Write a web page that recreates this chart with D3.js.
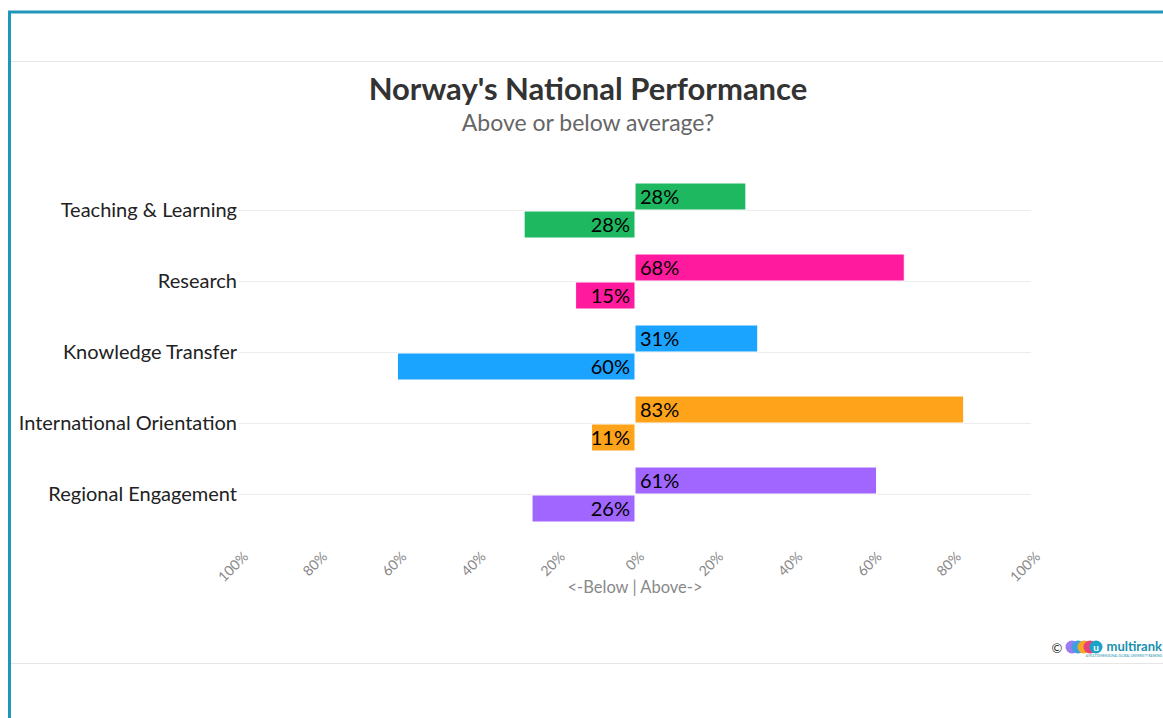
<!DOCTYPE html>
<html>
<head>
<meta charset="utf-8">
<script src="https://cdn.jsdelivr.net/npm/d3@7"></script>
<style>
  body { margin: 0; background: #fff; }
  svg { display: block; font-family: Lato, "Noto Sans", sans-serif; }
</style>
</head>
<body>
<svg id="chart" width="1163" height="718"></svg>
<script>
// data
const categories = ["Teaching & Learning", "Research", "Knowledge Transfer",
                    "International Orientation", "Regional Engagement"];
const aboveValues = [28, 68, 31, 83, 61];
const belowValues = [28, 15, 60, 11, 26];
const barColors = ["#1db860", "#ff1a9e", "#1aa3ff", "#ffa41a", "#a066ff"];
const tickValues = [-100, -80, -60, -40, -20, 0, 20, 40, 60, 80, 100];

const svg = d3.select("#chart");

// frame
svg.append("path")
    .attr("d", "M9.5,1000 V12 H1200")
    .attr("fill", "none").attr("stroke", "#2196bb").attr("stroke-width", 3);
svg.append("line").attr("x1", 11).attr("x2", 1163).attr("y1", 61.5).attr("y2", 61.5)
    .attr("stroke", "#e6e6e6");
svg.append("line").attr("x1", 11).attr("x2", 1163).attr("y1", 663.5).attr("y2", 663.5)
    .attr("stroke", "#e6e6e6");

// titles
svg.append("text").attr("x", 588).attr("y", 100).attr("text-anchor", "middle")
    .attr("font-size", 31).attr("font-weight", "bold").attr("fill", "#333")
    .text("Norway's National Performance");
svg.append("text").attr("x", 588).attr("y", 131).attr("text-anchor", "middle")
    .attr("font-size", 23).attr("fill", "#666")
    .text("Above or below average?");

const x = d3.scaleLinear().domain([-100, 100]).range([239, 1031]);
const y = d3.scaleBand().domain(categories).range([174.5, 529.5]);
const barH = 27;

const g = svg.append("g");

// category grid lines
g.selectAll("line.grid").data(categories).join("line")
    .attr("class", "grid")
    .attr("x1", x(-100)).attr("x2", x(100))
    .attr("y1", d => Math.round(y(d) + y.bandwidth() / 2) + 0.5)
    .attr("y2", d => Math.round(y(d) + y.bandwidth() / 2) + 0.5)
    .attr("stroke", "#ececec");

// category labels
g.selectAll("text.cat").data(categories).join("text")
    .attr("class", "cat")
    .attr("x", 237)
    .attr("y", d => y(d) + y.bandwidth() / 2 + 7)
    .attr("text-anchor", "end")
    .attr("font-size", 20).attr("fill", "#222")
    .text(d => d);

const mid = d => Math.round(y(d) + y.bandwidth() / 2);

// above bars
g.selectAll("rect.above").data(categories).join("rect")
    .attr("class", "above")
    .attr("x", x(0))
    .attr("y", d => mid(d) - barH)
    .attr("width", (d, i) => x(aboveValues[i]) - x(0))
    .attr("height", barH)
    .attr("fill", (d, i) => barColors[i])
    .attr("stroke", "#fff").attr("stroke-width", 1);

// below bars
g.selectAll("rect.below").data(categories).join("rect")
    .attr("class", "below")
    .attr("x", (d, i) => x(-belowValues[i]))
    .attr("y", d => mid(d) + 1)
    .attr("width", (d, i) => x(0) - x(-belowValues[i]))
    .attr("height", barH)
    .attr("fill", (d, i) => barColors[i])
    .attr("stroke", "#fff").attr("stroke-width", 1);

// value labels
g.selectAll("text.aboveLbl").data(categories).join("text")
    .attr("class", "aboveLbl")
    .attr("x", x(0) + 5)
    .attr("y", d => mid(d) - barH / 2 + 7)
    .attr("font-size", 20).attr("fill", "#000")
    .text((d, i) => aboveValues[i] + "%");
g.selectAll("text.belowLbl").data(categories).join("text")
    .attr("class", "belowLbl")
    .attr("x", x(0) - 5)
    .attr("y", d => mid(d) + 1 + barH / 2 + 7)
    .attr("text-anchor", "end")
    .attr("font-size", 20).attr("fill", "#000")
    .text((d, i) => belowValues[i] + "%");

// x axis
const axis = d3.axisBottom(x)
    .tickValues(tickValues)
    .tickSize(0)
    .tickFormat(d => Math.abs(d) + "%");
const ax = svg.append("g").attr("transform", "translate(0,538)").call(axis);
ax.select(".domain").remove();
ax.selectAll("text")
    .attr("font-family", "Lato, 'Noto Sans', sans-serif")
    .attr("font-size", 14).attr("fill", "#888")
    .attr("text-anchor", "end")
    .attr("dy", "0.35em")
    .attr("transform", "translate(4,14) rotate(-45)");

svg.append("text").attr("x", x(0)).attr("y", 593).attr("text-anchor", "middle")
    .attr("font-size", 16.5).attr("fill", "#888")
    .text("<-Below | Above->");

// credits logo
const logo = svg.append("g").attr("transform", "translate(1050,648)");
logo.append("text").attr("x", 7).attr("y", 5).attr("text-anchor", "middle")
    .attr("font-size", 13).attr("fill", "#333").text("\u00a9");
const dots = ["#9b7bf0", "#3aa0e0", "#f5a623", "#e8407a", "#1aa3c8"];
logo.selectAll("circle").data(dots).join("circle")
    .attr("cx", (d, i) => 22 + i * 6).attr("cy", -1).attr("r", 6.5)
    .attr("fill", d => d);
logo.append("text").attr("x", 46).attr("y", 2.5).attr("text-anchor", "middle")
    .attr("font-size", 10).attr("font-weight", "bold").attr("fill", "#fff").text("u");
logo.append("text").attr("x", 112).attr("y", 3).attr("text-anchor", "end")
    .attr("font-size", 13).attr("font-weight", "bold").attr("fill", "#1a8fb0")
    .text("multirank");
logo.append("text").attr("x", 112).attr("y", 9).attr("text-anchor", "end")
    .attr("font-size", 3).attr("fill", "#1a8fb0")
    .text("A MULTIDIMENSIONAL GLOBAL UNIVERSITY RANKING");
</script>
</body>
</html>
